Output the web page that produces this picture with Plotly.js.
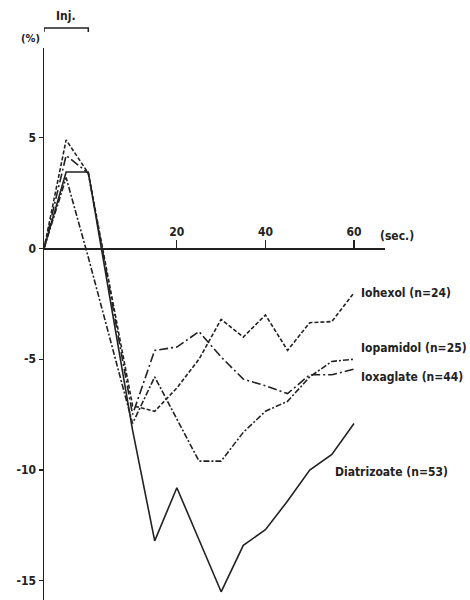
<!DOCTYPE html>
<html><head><meta charset="utf-8">
<script src="https://cdn.plot.ly/plotly-3.0.1.min.js"></script>
<style>html,body{margin:0;padding:0;background:#fff}#chart{width:470px;height:600px}</style>
</head><body><div id="chart"></div>
<script>
// time in seconds (injection from -10 to 0)
const timeSec = [-10, -5, 0, 10, 15, 20, 25, 30, 35, 40, 45, 50, 55, 60];
const iohexol = [0, 4.9, 3.4, -7.1, -7.35, -6.3, -5.0, -3.2, -4.0, -3.0, -4.6, -3.35, -3.3, -2.0];
const iopamidol = [0, 3.2, -0.4, -7.9, -5.8, -7.7, -9.6, -9.6, -8.3, -7.35, -6.9, -5.8, -5.1, -5.0];
const ioxaglate = [0, 4.2, 3.4, -7.5, -4.6, -4.45, -3.75, -4.9, -5.9, -6.2, -6.55, -5.7, -5.7, -5.45];
const diatrizoate = [0, 3.45, 3.45, -8.2, -13.2, -10.8, -13.15, -15.5, -13.4, -12.7, -11.4, -10.0, -9.3, -7.9];
const seriesNames = ['Iohexol (n=24)', 'Iopamidol (n=25)', 'Ioxaglate (n=44)', 'Diatrizoate (n=53)'];
const xTickVals = [20, 40, 60];
const xTickText = ['20', '40', '60'];
const yTickVals = [5, 0, -5, -10, -15];
const yTickText = ['5', '0', '-5', '-10', '-15'];
const injection = [-10, 0];
const xRange = [-10, 67];
const yRange = [-15.87, 9.05];

const ink = '#222';
const fnt = {family: '"Liberation Sans Narrow", "DejaVu Sans Condensed", "Arial Narrow", sans-serif', size: 12, weight: 'bold', color: ink};

const seriesData = [iohexol, iopamidol, ioxaglate, diatrizoate];
const dashes = ['4px,2px', '6px,2px,2px,2px', '9px,3px,2px,3px', 'solid'];
const traces = seriesData.map((s, i) => ({
  x: timeSec, y: s, name: seriesNames[i], type: 'scatter', mode: 'lines',
  line: {color: ink, width: 1.6, dash: dashes[i]}, showlegend: false
}));

// label positions: right-end labels
const labelPos = [
  {x: 61.1, y: -2.0}, {x: 61.1, y: -4.5}, {x: 61.1, y: -5.8}, {x: 55.3, y: -10.1}
];
const annotations = seriesNames.map((n, i) => ({
  x: labelPos[i].x, y: labelPos[i].y, xref: 'x', yref: 'y', text: n, showarrow: false,
  xanchor: 'left', yanchor: 'middle', font: fnt
}));
annotations.push({x: 65.4, y: 0, xref: 'x', yref: 'y', yshift: 12, text: '(sec.)', showarrow: false, xanchor: 'left', yanchor: 'middle', font: fnt});
annotations.push({x: -10, y: 1, xref: 'x', yref: 'paper', xshift: -2, yshift: 10, text: '(%)', showarrow: false, xanchor: 'right', yanchor: 'middle', font: Object.assign({}, fnt, {size: 11})});
annotations.push({x: (injection[0] + injection[1]) / 2, y: 1, xref: 'x', yref: 'paper', yshift: 32, text: 'Inj.', showarrow: false, xanchor: 'center', yanchor: 'middle', font: fnt});

const plotH = 552;
const yb = 1 + 20 / plotH, yb2 = 1 + 16 / plotH;
const shapes = [{
  type: 'path', xref: 'x', yref: 'paper',
  path: `M ${injection[0]} ${yb2} L ${injection[0]} ${yb} L ${injection[1]} ${yb} L ${injection[1]} ${yb2}`,
  line: {color: ink, width: 1.5}
}];

const layout = {
  width: 470, height: 600,
  margin: {l: 44, r: 85, t: 48, b: 0, pad: 0},
  paper_bgcolor: '#fff', plot_bgcolor: '#fff',
  showlegend: false,
  xaxis: {
    range: xRange, anchor: 'free', position: (0 - yRange[0]) / (yRange[1] - yRange[0]), side: 'top',
    showline: true, linecolor: ink, linewidth: 1.5, showgrid: false, zeroline: false,
    ticks: 'outside', ticklen: 8, tickwidth: 1.2, tickcolor: ink,
    tickvals: xTickVals, ticktext: xTickText, tickfont: fnt
  },
  yaxis: {
    range: yRange, showline: true, linecolor: ink, linewidth: 1.5, showgrid: false, zeroline: false,
    ticks: 'outside', ticklen: 4, tickwidth: 1.2, tickcolor: ink,
    tickvals: yTickVals, ticktext: yTickText, tickfont: fnt
  },
  annotations: annotations,
  shapes: shapes
};
Plotly.newPlot('chart', traces, layout, {staticPlot: true, displayModeBar: false});
</script>
</body></html>
